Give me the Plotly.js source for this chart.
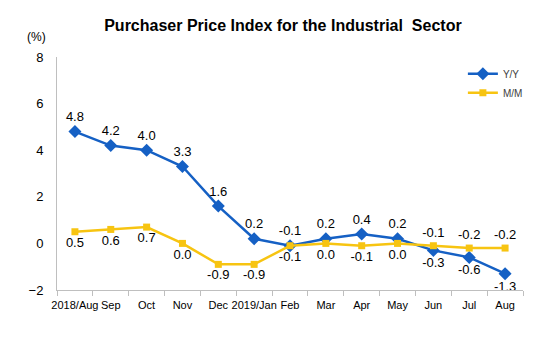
<!DOCTYPE html>
<html>
<head>
<meta charset="utf-8">
<script src="https://cdn.plot.ly/plotly-3.0.1.min.js"></script>
<style>html,body{margin:0;padding:0;background:#fff;}#chart{width:542px;height:340px;}</style>
</head>
<body>
<div id="chart"></div>
<script>
const categories = ["2018/Aug","Sep","Oct","Nov","Dec","2019/Jan","Feb","Mar","Apr","May","Jun","Jul","Aug"];
const yoyValues = [4.8, 4.2, 4.0, 3.3, 1.6, 0.2, -0.1, 0.2, 0.4, 0.2, -0.3, -0.6, -1.3];
const momValues = [0.5, 0.6, 0.7, 0.0, -0.9, -0.9, -0.1, 0.0, -0.1, 0.0, -0.1, -0.2, -0.2];
const yTicks = [-2, 0, 2, 4, 6, 8];

const yoyPos = yoyValues.map((v, i) => i >= 10 ? "bottom center" : "top center");
const momPos = momValues.map((v, i) => i >= 10 ? "top center" : "bottom center");

const labelFont = {family: "Liberation Sans, Arial, sans-serif", size: 13, color: "#000"};

const traces = [
  {
    x: categories, y: yoyValues, name: "Y/Y", type: "scatter", mode: "lines+markers+text",
    line: {color: "#1560c4", width: 2.5},
    marker: {symbol: "diamond", size: 10, color: "#1560c4"},
    text: yoyValues.map(v => v.toFixed(1)), textposition: yoyPos, textfont: labelFont,
    cliponaxis: false, hoverinfo: "x+y"
  },
  {
    x: categories, y: momValues, name: "M/M", type: "scatter", mode: "lines+markers+text",
    line: {color: "#f7c411", width: 2.5},
    marker: {symbol: "square", size: 7, color: "#f7c411"},
    text: momValues.map(v => v.toFixed(1)), textposition: momPos, textfont: labelFont,
    cliponaxis: false, hoverinfo: "x+y"
  }
];

const layout = {
  width: 542, height: 340,
  margin: {l: 57, r: 19, t: 57, b: 50},
  paper_bgcolor: "#fff", plot_bgcolor: "#fff",
  showlegend: true,
  title: {
    text: "<b>Purchaser Price Index for the Industrial  Sector</b>",
    font: {family: "Liberation Sans, Arial, sans-serif", size: 16, color: "#000"},
    x: 0.522, xanchor: "center", y: 0.925, yanchor: "middle", xref: "container", yref: "container"
  },
  xaxis: {
    type: "category", range: [-0.5, 12.5], fixedrange: true,
    showline: true, linecolor: "#bfbfbf", linewidth: 1,
    ticks: "outside", tickson: "boundaries", ticklen: 5, tickcolor: "#bfbfbf",
    showgrid: false, zeroline: false, tickangle: 0, automargin: false,
    ticklabelstandoff: 5,
    tickfont: {family: "Liberation Sans Narrow, Arial Narrow, Liberation Sans, sans-serif", size: 11, color: "#000"}
  },
  yaxis: {
    range: [-2, 8], tickvals: yTicks, fixedrange: true,
    showline: true, linecolor: "#bfbfbf", linewidth: 1,
    ticks: "", showgrid: false, zeroline: false,
    ticklabelstandoff: 10,
    tickfont: {family: "Liberation Sans, Arial, sans-serif", size: 13, color: "#000"}
  },
  legend: {
    x: 0.871, y: 0.99, xanchor: "left", yanchor: "top",
    bgcolor: "rgba(0,0,0,0)", tracegroupgap: 2,
    font: {family: "Liberation Sans, Arial, sans-serif", size: 10, color: "#404040"}
  },
  annotations: [
    {text: "(%)", xref: "paper", yref: "paper", x: -0.045, y: 1.086, xanchor: "center", yanchor: "middle",
     showarrow: false, font: {family: "Liberation Sans, Arial, sans-serif", size: 12, color: "#000"}}
  ]
};

Plotly.newPlot("chart", traces, layout, {displayModeBar: false, staticPlot: true});
</script>
</body>
</html>
